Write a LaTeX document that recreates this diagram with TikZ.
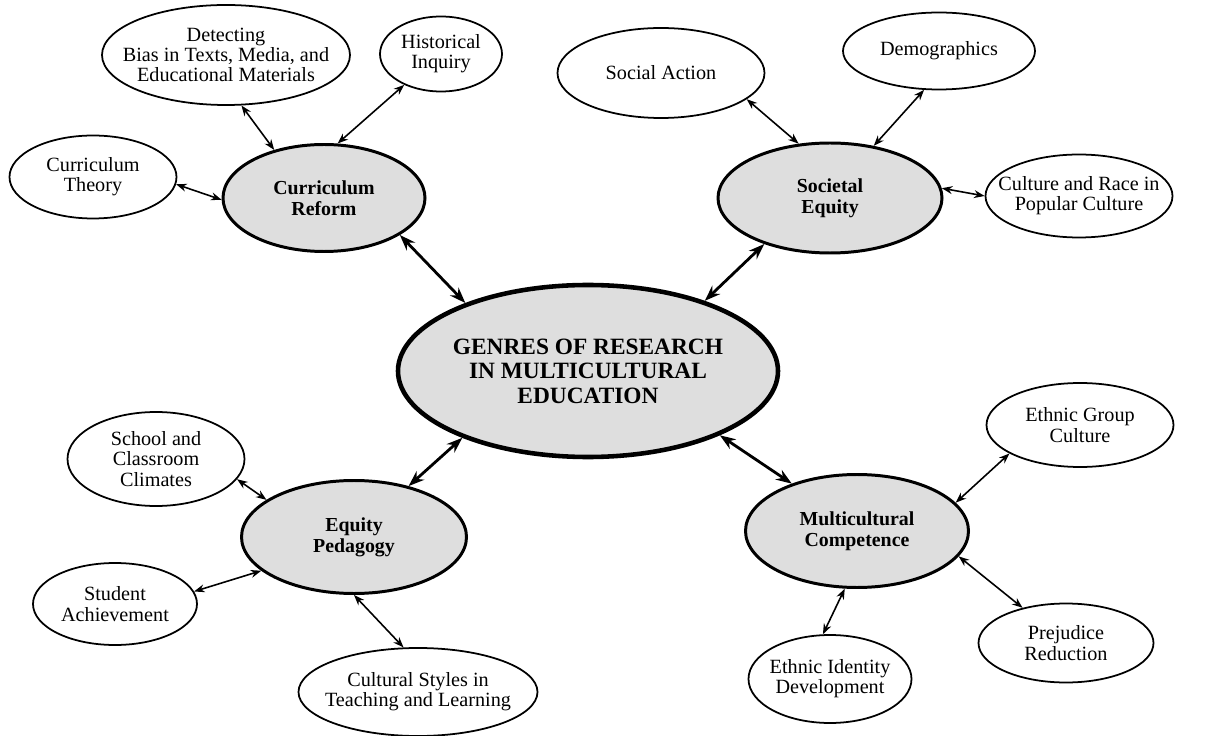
\documentclass[tikz,border=0pt]{standalone}
\usepackage{fontspec}
\setmainfont{Liberation Serif}
\usetikzlibrary{shapes.geometric,arrows.meta}

\begin{document}
\begin{tikzpicture}[x=0.02cm,y=-0.02cm,
  sz/.style 2 args={minimum width=#1*0.02cm,minimum height=#2*0.02cm},
  leaf/.style={ellipse,draw,line width=1pt,align=center,inner xsep=-12pt,inner ysep=-2pt,font=\fontsize{11.5}{11.5}\selectfont},
  hub/.style={ellipse,draw,line width=1.7pt,fill=black!13,align=center,inner xsep=-12pt,inner ysep=-2pt,font=\fontsize{11.3}{11.8}\selectfont\bfseries},
  core/.style={ellipse,draw,line width=2.6pt,fill=black!13,align=center,inner xsep=-12pt,inner ysep=-2pt,font=\fontsize{13.3}{13.9}\selectfont\bfseries},
  link/.style={<->,>={Stealth[length=6pt,width=4.5pt]},line width=0.9pt},
  biglink/.style={<->,>={Stealth[length=9pt,width=6.5pt]},line width=1.6pt}]
\useasboundingbox (0,0) rectangle (1207,736);

\node[core,sz={380}{172}] (genres) at (588,371) {GENRES OF RESEARCH\\IN MULTICULTURAL\\EDUCATION};

\node[hub,sz={202}{107}] (curric) at (324,198) {Curriculum\\Reform};
\node[hub,sz={224}{110}] (societal) at (830,198) {Societal\\Equity};
\node[hub,sz={225}{113}] (pedagogy) at (354,537) {Equity\\Pedagogy};
\node[hub,sz={223}{113}] (compet) at (857,531) {Multicultural\\Competence};

\node[leaf,sz={248}{100}] (bias) at (226,55) {Detecting\\Bias in Texts, Media, and\\Educational Materials};
\node[leaf,sz={122}{75}] (inquiry) at (441,54) {Historical\\Inquiry};
\node[leaf,sz={167}{83}] (theory) at (93,177) {Curriculum\\Theory};

\node[leaf,sz={207}{90}] (action) at (661,73) {Social Action};
\node[leaf,sz={192}{77}] (demog) at (939,51) {Demographics};
\node[leaf,sz={187}{83}] (popular) at (1079,196) {Culture and Race in\\Popular Culture};

\node[leaf,sz={177}{94}] (climate) at (156,459) {School and\\Classroom\\Climates};
\node[leaf,sz={164}{82}] (achieve) at (115,604) {Student\\Achievement};
\node[leaf,sz={239}{88}] (styles) at (418,692) {Cultural Styles in\\Teaching and Learning};

\node[leaf,sz={187}{84}] (group) at (1080,425) {Ethnic Group\\Culture};
\node[leaf,sz={175}{79}] (prejud) at (1066,643) {Prejudice\\Reduction};
\node[leaf,sz={163}{88}] (identity) at (830,679) {Ethnic Identity\\Development};

\draw[biglink] (curric.-26) -- (genres.151);
\draw[biglink] (societal.215) -- (genres.31);
\draw[biglink] (pedagogy.43) -- (genres.208);
\draw[biglink] (compet.144) -- (genres.334);

\draw[link] (bias.-73) -- (curric.136);
\draw[link] (inquiry.220) -- (curric.76);
\draw[link] (theory.-5) -- (curric.181);

\draw[link] (action.-17) -- (societal.120);
\draw[link] (demog.249) -- (societal.50);
\draw[link] (popular.180) -- (societal.5);

\draw[link] (climate.-14) -- (pedagogy.157);
\draw[link] (achieve.9) -- (pedagogy.200);
\draw[link] (styles.108) -- (pedagogy.270);

\draw[link] (group.202) -- (compet.16);
\draw[link] (prejud.141) -- (compet.-14);
\draw[link] (identity.99) -- (compet.258);
\end{tikzpicture}
\end{document}
